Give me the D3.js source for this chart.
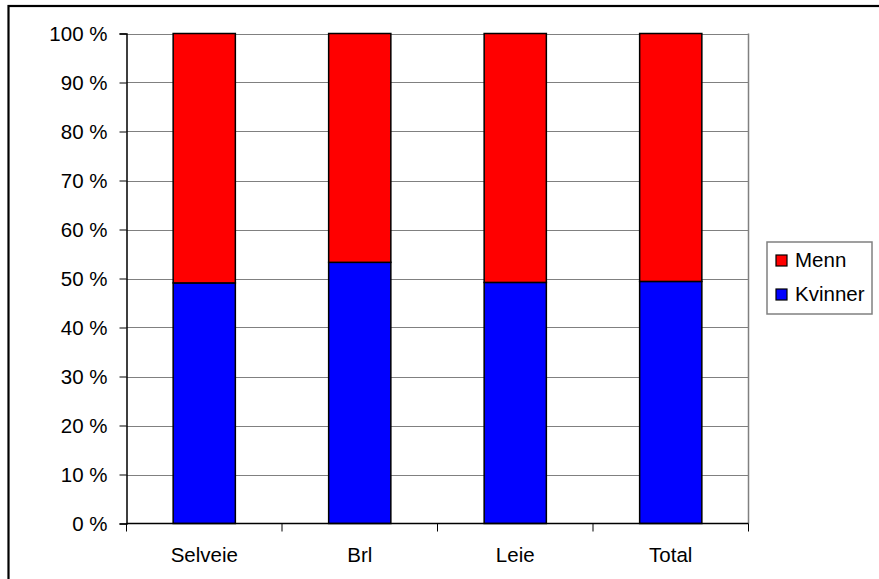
<!DOCTYPE html>
<html><head><meta charset="utf-8">
<script src="https://cdn.jsdelivr.net/npm/d3@7"></script>
<style>body{margin:0;background:#fff}svg{display:block}text{font-family:"Liberation Sans",Arial,sans-serif;fill:#000}</style>
</head><body><svg id="c" width="879" height="579"></svg>
<script>
const categories = ["Selveie", "Brl", "Leie", "Total"];
const kvinner = [49.1, 53.3, 49.2, 49.4];
const menn = [50.9, 46.7, 50.8, 50.6];
const yTicks = [0, 10, 20, 30, 40, 50, 60, 70, 80, 90, 100];
const seriesNames = ["Kvinner", "Menn"];
const seriesColors = ["#0000ff", "#ff0000"];

(function () {
const svg = d3.select("#c");
const pLeft = 126.5, pRight = 748.5, pTop = 33.5, pBottom = 523.5;
const x = d3.scaleBand().domain(categories).range([pLeft, pRight]).paddingInner(0.6).paddingOuter(0.3);
const xb = d3.scaleBand().domain(categories).range([pLeft, pRight]);
const y = d3.scaleLinear().domain([0, 100]).range([pBottom, pTop]);

// outer border
svg.append("rect").attr("x", 8.5).attr("y", 6).attr("width", 880).attr("height", 580)
  .attr("fill", "none").attr("stroke", "#000").attr("stroke-width", 2.2);

// gridlines
svg.append("g").selectAll("line").data(yTicks.filter(d => d > 0)).join("line")
  .attr("x1", pLeft).attr("x2", pRight).attr("y1", d => Math.round(y(d)) + 0.5).attr("y2", d => Math.round(y(d)) + 0.5)
  .attr("stroke", "#808080").attr("stroke-width", 1);
// right border of plot
svg.append("line").attr("x1", pRight).attr("x2", pRight).attr("y1", pTop).attr("y2", pBottom)
  .attr("stroke", "#808080").attr("stroke-width", 1.5);

// stacked data
const data = categories.map((c, i) => ({cat: c, Kvinner: kvinner[i], Menn: menn[i]}));
const stack = d3.stack().keys(seriesNames)(data);
svg.append("g").selectAll("g").data(stack).join("g")
  .attr("fill", (d, i) => seriesColors[i])
  .selectAll("rect").data(d => d).join("rect")
  .attr("x", d => x(d.data.cat)).attr("width", x.bandwidth())
  .attr("y", d => y(d[1])).attr("height", d => y(d[0]) - y(d[1]))
  .attr("stroke", "#000").attr("stroke-width", 1.5);

// y axis
const yAxis = d3.axisLeft(y).tickValues(yTicks).tickFormat(d => d + " %").tickSize(7).tickPadding(12);
const gy = svg.append("g").attr("transform", `translate(${pLeft},0)`).call(yAxis);
gy.select(".domain").attr("stroke", "#000").attr("stroke-width", 1.5);
gy.selectAll(".tick line").attr("stroke", "#000");
gy.selectAll("text").attr("font-size", "20.5px").attr("font-family", '"Liberation Sans",Arial,sans-serif').attr("fill", "#000");

// x axis
const gx = svg.append("g").attr("transform", `translate(0,${pBottom})`);
gx.append("line").attr("x1", pLeft).attr("x2", pRight).attr("stroke", "#000").attr("stroke-width", 1.5);
const edges = categories.map(c => xb(c)).concat([pRight]);
gx.selectAll("line.t").data(edges).join("line").attr("class", "t")
  .attr("x1", d => d).attr("x2", d => d).attr("y1", 0).attr("y2", 8).attr("stroke", "#000");
gx.selectAll("text").data(categories).join("text")
  .attr("x", d => xb(d) + xb.bandwidth() / 2).attr("y", 38).attr("text-anchor", "middle")
  .attr("font-size", "20.5px").text(d => d);

// legend
const lg = svg.append("g");
lg.append("rect").attr("x", 767).attr("y", 242).attr("width", 105).attr("height", 72)
  .attr("fill", "#fff").attr("stroke", "#808080").attr("stroke-width", 1.5);
const legendItems = [{name: "Menn", color: seriesColors[1]}, {name: "Kvinner", color: seriesColors[0]}];
legendItems.forEach((it, i) => {
  const cy = 259 + i * 34;
  lg.append("rect").attr("x", 776).attr("y", cy - 4).attr("width", 11).attr("height", 11)
    .attr("fill", it.color).attr("stroke", "#000").attr("stroke-width", 1.2);
  lg.append("text").attr("x", 795).attr("y", cy + 8).attr("font-size", "20.5px").text(it.name);
});
})();
</script></body></html>
